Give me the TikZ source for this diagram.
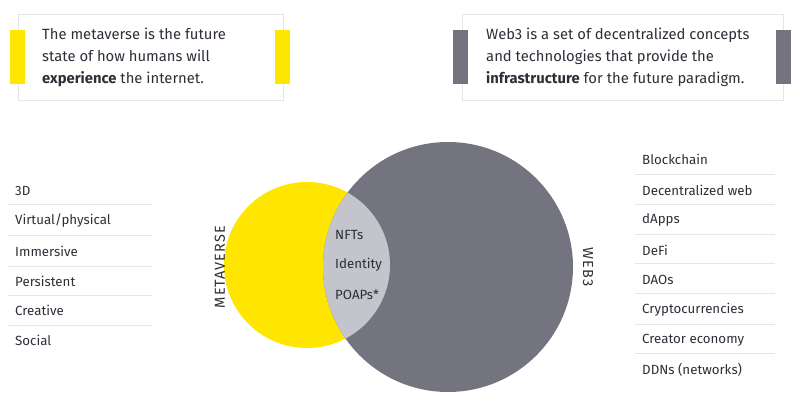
\documentclass[tikz,border=0pt]{standalone}
\usepackage{fontspec}
\setmainfont{Fira Sans}
\definecolor{eyyellow}{HTML}{FFE600}
\definecolor{eygray}{HTML}{747480}
\definecolor{eylight}{HTML}{C4C4CD}
\definecolor{eytext}{HTML}{2E2E38}
\definecolor{eyrule}{HTML}{E6E6E9}
\begin{document}
\begin{tikzpicture}[x=1pt,y=-1pt,text=eytext]
  \tikzstyle{bar}=[inner sep=0pt, minimum width=15pt, minimum height=54pt]
  \tikzstyle{note}=[anchor=west, align=left, inner sep=0pt, font=\fontsize{14.8}{22}\selectfont]
  \tikzstyle{item}=[anchor=west, inner sep=0pt, font=\fontsize{13.3}{15}\selectfont]
  \tikzstyle{sep}=[draw=eyrule, line width=0.7pt]
  \tikzstyle{tag}=[inner sep=0pt, font=\fontsize{14.5}{15}\selectfont\addfontfeature{LetterSpace=7}]
  \useasboundingbox (0,0) rectangle (800,404);

  % statement boxes
  \draw[eyrule, line width=0.8pt] (18,14) rectangle (283,100);
  \node[bar, fill=eyyellow] (metabarL) at (17.5,57) {};
  \node[bar, fill=eyyellow] (metabarR) at (282.5,57) {};
  \node[note] (metanote) at (42,57) {The metaverse is the future\\state of how humans will\\\textbf{experience} the internet.};

  \draw[eyrule, line width=0.8pt] (462,14) rectangle (783,100);
  \node[bar, fill=eygray] (webbarL) at (460.5,57) {};
  \node[bar, fill=eygray] (webbarR) at (783.5,57) {};
  \node[note] (webnote) at (486,57) {Web3 is a set of decentralized concepts\\and technologies that provide the\\\textbf{infrastructure} for the future paradigm.};

  % venn
  \node[circle, fill=eyyellow, minimum size=166pt, inner sep=0pt] (meta) at (307,265) {};
  \node[circle, fill=eygray, minimum size=250pt, inner sep=0pt] (web) at (448,267) {};
  \begin{scope}
    \clip (meta.center) circle (83);
    \fill[eylight] (web.center) circle (125);
  \end{scope}
  \node[item] (nfts) at (335,235) {NFTs};
  \node[item] (identity) at (335,265) {Identity};
  \node[item] (poaps) at (335,295) {POAPs*};
  \node[tag, rotate=90] (metatag) at (220,267) {METAVERSE};
  \node[tag, rotate=-90] (webtag) at (588,267) {WEB3};

  % metaverse traits
  \node[item] (m1) at (15,191) {3D};
  \node[item] (m2) at (15,221) {Virtual/physical};
  \node[item] (m3) at (15,251) {Immersive};
  \node[item] (m4) at (15,281) {Persistent};
  \node[item] (m5) at (15,310) {Creative};
  \node[item] (m6) at (15,340) {Social};
  \draw[sep] (8,204) -- (152,204);
  \draw[sep] (8,235) -- (152,235);
  \draw[sep] (8,266) -- (152,266);
  \draw[sep] (8,295) -- (152,295);
  \draw[sep] (8,325) -- (152,325);

  % web3 components
  \node[item] (w1) at (642,159) {Blockchain};
  \node[item] (w2) at (642,190) {Decentralized web};
  \node[item] (w3) at (642,220) {dApps};
  \node[item] (w4) at (642,250) {DeFi};
  \node[item] (w5) at (642,280) {DAOs};
  \node[item] (w6) at (642,310) {Cryptocurrencies};
  \node[item] (w7) at (642,340) {Creator economy};
  \node[item] (w8) at (642,370) {DDNs (networks)};
  \draw[sep] (635,174) -- (775,174);
  \draw[sep] (635,204) -- (775,204);
  \draw[sep] (635,234) -- (775,234);
  \draw[sep] (635,263) -- (775,263);
  \draw[sep] (635,293) -- (775,293);
  \draw[sep] (635,324) -- (775,324);
  \draw[sep] (635,353) -- (775,353);
\end{tikzpicture}
\end{document}
